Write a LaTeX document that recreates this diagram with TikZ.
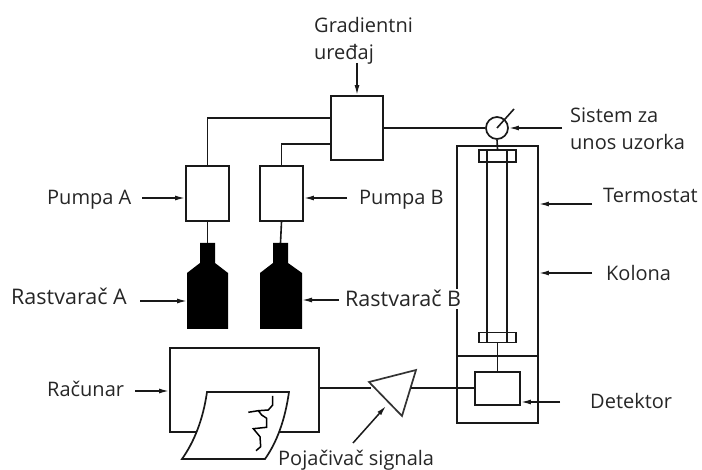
\documentclass[tikz,border=0pt]{standalone}
\usepackage{fontspec}
\setmainfont{Open Sans}
\usetikzlibrary{arrows.meta}
\tikzset{
  wire/.style={line width=1.6pt,draw=black!90},
  ptr/.style={line width=1.5pt,draw=black!90,-{Latex[length=10pt,width=5pt]}},
  unit/.style={draw=black!90,line width=1.7pt,fill=white,inner sep=0pt,minimum width=#1},
  lab/.style={inner sep=0pt,anchor=west,font=\fontsize{20pt}{27pt}\selectfont,text=black!85,align=left},
  labb/.style={inner sep=0pt,anchor=base west,font=\fontsize{20pt}{27pt}\selectfont,text=black!85},
  labw/.style={labb,font=\fontsize{21.5pt}{27pt}\selectfont},
  bottle/.style={fill=black,draw=none}
}
\begin{document}
\begin{tikzpicture}[x=1pt,y=-1pt]
\useasboundingbox (0,0) rectangle (702,470);
% oven and column
\node[unit=81pt,minimum height=277pt,fill=none] (oven) at (497.5,284.5) {};
\coordinate (ovenL) at (457,356);
\coordinate (ovenR) at (538,356);
\draw[wire] (ovenL) -- (ovenR);
\node[unit=20pt,minimum height=181pt,fill=none] (col) at (497,246) {};
\node[unit=37pt,minimum height=12pt] (captop) at (497.5,156) {};
\node[unit=37pt,minimum height=10pt] (capbot) at (497.5,337.5) {};
\node[unit=45pt,minimum height=33pt] (det) at (497.5,388.5) {};
\draw[wire] (capbot.south) -- (det.north);
\draw[wire] (487,150) -- (487,162) (507,150) -- (507,162);
\draw[wire] (487,333) -- (487,342) (507,333) -- (507,342);
% gradient and pumps
\node[unit=52pt,minimum height=64pt] (grad) at (357,128) {};
\node[unit=43pt,minimum height=55pt] (pa) at (207.5,193.5) {};
\node[unit=43pt,minimum height=55pt] (pb) at (281.5,193.5) {};
\coordinate (gA) at (331,118);
\coordinate (gB) at (331,144);
\draw[wire] (pa.north) |- (gA);
\draw[wire] (pb.north) |- (gB);
% valve
\node[draw=black!90,line width=1.7pt,circle,minimum size=22pt,inner sep=0pt,fill=white] (valve) at (497,128) {};
\coordinate (handle) at (514,109);
\draw[wire] (valve.center) -- (handle);
\draw[wire] (grad.east) -- (valve.west);
\draw[wire] (valve.south) -- (captop.north);
% bottles
\path[bottle] (200,243) -- (215,243) -- (215,263) -- (228,273) -- (228,329) -- (187,329) -- (187,273) -- (200,263) -- cycle;
\path[bottle] (273,243) -- (288,243) -- (288,263) -- (302,273) -- (302,329) -- (260,329) -- (260,273) -- (273,263) -- cycle;
\coordinate (ba) at (207.5,243);
\coordinate (bb) at (280.5,243);
\coordinate (baL) at (187,301);
\coordinate (bbR) at (302,300);
\draw[wire] (pa.south) -- (ba);
\draw[wire] (pb.south) -- (bb);
% computer
\node[unit=149pt,minimum height=84pt] (comp) at (244.5,390) {};
\path[draw=black!90,line width=1.7pt,fill=white] (207,392) -- (289,392) .. controls (285,420) and (277,442) .. (265,459) -- (182,459) .. controls (194,442) and (203,420) .. (207,392) -- cycle;
\draw[line width=1.5pt,black] (272.7,396) -- (272.7,405) -- (268.3,410) -- (258.3,410.7) -- (248.3,412.3)
  (258.3,410.7) -- (261.7,415) -- (266.7,418.3) -- (266.7,427.3) -- (253.3,428.7) -- (260,436.7) -- (260.7,446.7) -- (256,450.7);
% amplifier
\path[draw=black!80,line width=1.7pt,fill=white] (369,382) -- (416,370) -- (402,416) -- cycle;
\coordinate (ampIn) at (371,388);
\coordinate (ampOut) at (411,388);
\draw[wire] (comp.east |- ampIn) -- (ampIn);
\draw[wire] (ampOut) -- (det.west |- ampOut);
% labels
\node[lab] (lgrad) at (314,41) {Gradientni\\uređaj};
\node[lab] (lsis) at (570,129) {Sistem za\\unos uzorka};
\node[labb] (lpa) at (47,205) {Pumpa A};
\node[labb] (lpb) at (359,205) {Pumpa B};
\node[labw] (lra) at (11,305) {Rastvarač A};
\node[labw,fill=white,inner ysep=2pt] (lrb) at (345,307) {Rastvarač B};
\node[labb] (lrc) at (47,397) {Računar};
\node[labb] (lte) at (603,203) {Termostat};
\node[labb] (lko) at (606,281) {Kolona};
\node[labb] (lde) at (590,409) {Detektor};
\node[labb] (lpo) at (278,465) {Pojačivač signala};
% pointers
\coordinate (gT) at (357,63);
\draw[ptr] (gT) -- (grad.north);
\coordinate (sT) at (562,128);
\draw[ptr] (sT) -- (valve.east);
\coordinate (paT) at (142,198);
\draw[ptr] (paT) -- (pa.west |- paT);
\coordinate (pbT) at (347,198);
\draw[ptr] (pbT) -- (pb.east |- pbT);
\coordinate (raT) at (140,301);
\draw[ptr] (raT) -- (baL);
\coordinate (rbT) at (339,300);
\draw[ptr] (rbT) -- (bbR);
\coordinate (rcT) at (135,391);
\draw[ptr] (rcT) -- (comp.west |- rcT);
\coordinate (teT) at (592,204);
\draw[ptr] (teT) -- (oven.east |- teT);
\coordinate (koT) at (592,273);
\draw[ptr] (koT) -- (oven.east |- koT);
\coordinate (deT) at (560,402);
\draw[ptr] (deT) -- (det.east |- deT);
\coordinate (poT) at (353,443);
\coordinate (poE) at (386,406);
\draw[ptr] (poT) -- (poE);
\end{tikzpicture}
\end{document}
